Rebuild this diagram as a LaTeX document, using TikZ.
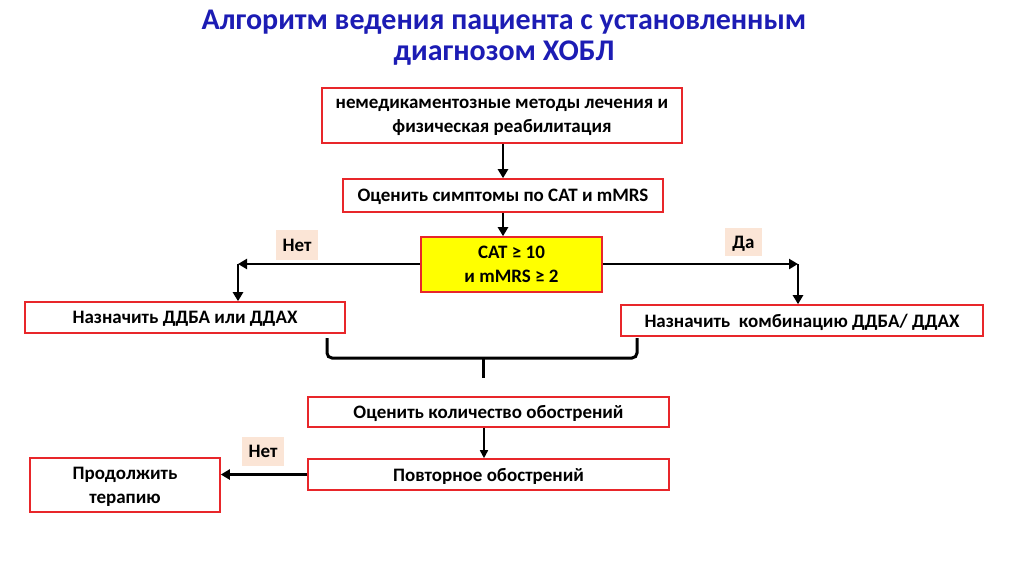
\documentclass[tikz,border=0pt]{standalone}
\usepackage{fontspec}
\setmainfont{Carlito}
\usetikzlibrary{arrows.meta}
\definecolor{boxred}{HTML}{E8262A}
\definecolor{titleblue}{HTML}{1C1CB4}
\definecolor{peach}{HTML}{FBE5D6}
\definecolor{yel}{HTML}{FFFF00}
\tikzset{
  box/.style={draw=boxred, line width=1.6pt, fill=white, inner sep=0pt, text depth=0pt, font=\fontsize{19}{24}\selectfont\bfseries, align=center},
  ybox/.style={box, fill=yel},
  lab/.style={fill=peach, inner sep=0pt, text depth=0pt, font=\fontsize{19}{24}\selectfont\bfseries},
  arr/.style={line width=2.6pt, -{Triangle[length=9pt,width=10pt]}},
  thinarr/.style={line width=1.6pt, -{Triangle[length=8pt,width=8pt]}},
}
\begin{document}
\begin{tikzpicture}[x=1pt,y=-1pt]
\useasboundingbox (0,0) rectangle (1024,574);
\node[font=\fontsize{30}{31}\selectfont\bfseries, text=titleblue, align=center] (title) at (504,38)
  {Алгоритм ведения пациента с установленным\\диагнозом ХОБЛ};
\node[box, minimum width=360pt, minimum height=55pt] (b1) at (502,115.5)
  {немедикаментозные методы лечения и\\физическая реабилитация};
\node[box, minimum width=320pt, minimum height=33pt] (b2) at (503,195.5)
  {Оценить симптомы по CAT и mMRS};
\node[ybox, minimum width=181pt, minimum height=55pt] (b3) at (511.5,264.5)
  {CAT ≥ 10\\и mMRS ≥ 2};
\node[box, minimum width=320pt, minimum height=31pt] (bl) at (185,317.5)
  {Назначить ДДБА или ДДАХ};
\node[box, minimum width=362pt, minimum height=31pt] (br) at (802,320.5)
  {Назначить\ \ комбинацию ДДБА/ ДДАХ};
\node[box, minimum width=361pt, minimum height=30pt] (b4) at (488.5,412)
  {Оценить количество обострений};
\node[box, minimum width=361pt, minimum height=31pt] (b5) at (488.5,474.5)
  {Повторное обострений};
\node[box, minimum width=190pt, minimum height=54pt] (b6) at (125,485)
  {Продолжить\\терапию};
\node[lab, minimum width=42pt, minimum height=30pt] (n1) at (297,245) {Нет};
\node[lab, minimum width=37pt, minimum height=28pt] (n2) at (743.5,242) {Да};
\node[lab, minimum width=42pt, minimum height=29pt] (n3) at (263,451.5) {Нет};
% connectors
\draw[arr] (b1.south -| 503,0) -- (b2.north -| 503,0);
\draw[arr] (b2.south -| 503,0) -- (b3.north -| 503,0);
\coordinate (lc) at (238,264);
\coordinate (rc) at (798,264);
\draw[arr] (b3.west |- lc) -- (lc);
\draw[arr] (lc) -- (bl.north -| lc);
\draw[arr] (b3.east |- rc) -- (rc);
\draw[arr] (rc) -- (br.north -| rc);
% brace
\coordinate (brl) at (327,338);
\coordinate (brr) at (637,338);
\coordinate (brm) at (483,378);
\draw[line width=3pt, rounded corners=5pt] (brl) -- (327,358) -- (637,358) -- (brr);
\draw[line width=3pt] (483,358) -- (brm);
\draw[thinarr] (b4.south -| 484,0) -- (b5.north -| 484,0);
\draw[arr] (b5.west) -- (b6.east |- b5.west);
\end{tikzpicture}
\end{document}
